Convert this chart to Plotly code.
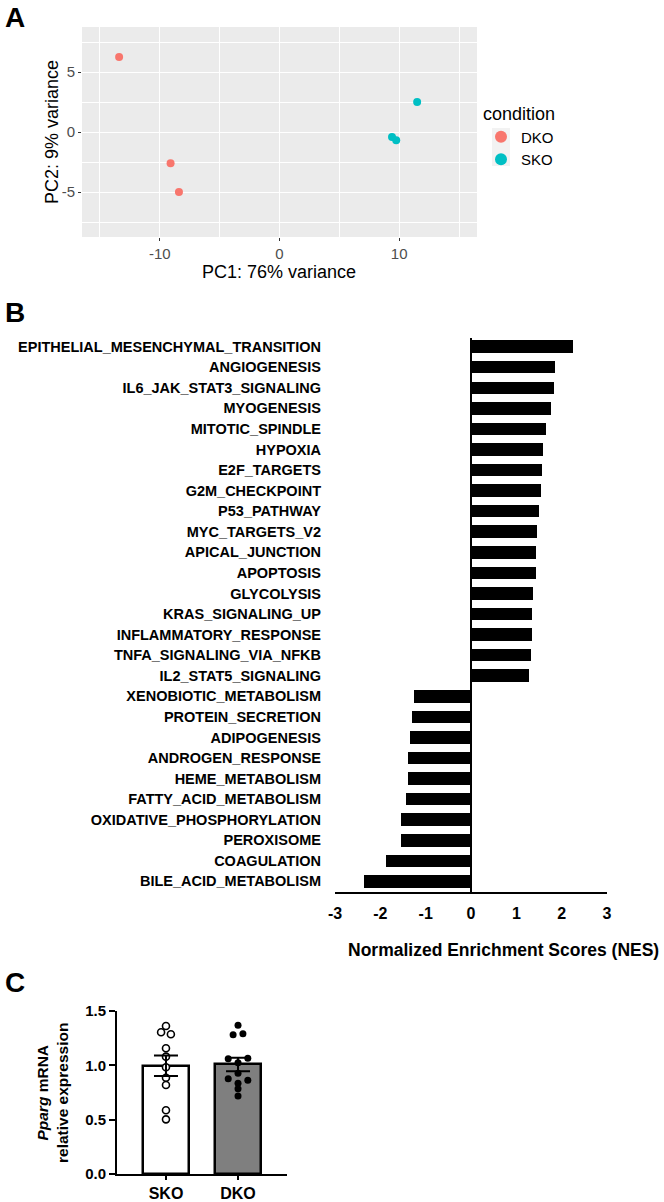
import plotly.graph_objects as go
import numpy as np

# ---------------- Data ----------------
# Panel A: PCA
dko_pc1 = [-13.4, -9.1, -8.4]
dko_pc2 = [6.25, -2.6, -5.0]
sko_pc1 = [11.5, 9.4, 9.75]
sko_pc2 = [2.5, -0.42, -0.69]
pca_xticks = [-10, 0, 10]
pca_xticktext = ["-10", "0", "10"]
pca_yticks = [-5, 0, 5]
pca_yticktext = ["-5", "0", "5"]

# Panel B: GSEA hallmark NES
pathways = [
    "EPITHELIAL_MESENCHYMAL_TRANSITION", "ANGIOGENESIS", "IL6_JAK_STAT3_SIGNALING",
    "MYOGENESIS", "MITOTIC_SPINDLE", "HYPOXIA", "E2F_TARGETS", "G2M_CHECKPOINT",
    "P53_PATHWAY", "MYC_TARGETS_V2", "APICAL_JUNCTION", "APOPTOSIS", "GLYCOLYSIS",
    "KRAS_SIGNALING_UP", "INFLAMMATORY_RESPONSE", "TNFA_SIGNALING_VIA_NFKB",
    "IL2_STAT5_SIGNALING", "XENOBIOTIC_METABOLISM", "PROTEIN_SECRETION",
    "ADIPOGENESIS", "ANDROGEN_RESPONSE", "HEME_METABOLISM", "FATTY_ACID_METABOLISM",
    "OXIDATIVE_PHOSPHORYLATION", "PEROXISOME", "COAGULATION", "BILE_ACID_METABOLISM",
]
nes = [
    2.25, 1.85, 1.82, 1.77, 1.65, 1.58, 1.57, 1.54, 1.51, 1.45, 1.44, 1.43, 1.37,
    1.35, 1.34, 1.32, 1.29, -1.25, -1.30, -1.34, -1.38, -1.40, -1.44, -1.55, -1.55,
    -1.87, -2.35,
]
nes_ticks = [-3, -2, -1, 0, 1, 2, 3]
nes_ticktext = ["-3", "-2", "-1", "0", "1", "2", "3"]

# Panel C: Pparg mRNA relative expression
pparg_groups = ["SKO", "DKO"]
pparg_sko = [1.362, 1.304, 1.286, 1.157, 1.08, 0.982, 0.886, 0.819, 0.586, 0.503]
pparg_dko = [1.368, 1.282, 1.291, 1.061, 1.065, 1.024, 0.927, 0.877, 0.862, 0.835, 0.785, 0.718]
pparg_yticks = [0, 0.5, 1.0, 1.5]

# ---------------- Style ----------------
W, H = 664, 1202
FONT = "Liberation Sans, Arial, Helvetica, sans-serif"
C_DKO = "#F8766D"
C_SKO = "#00BFC4"
sko_jitter = [0, -1, 1, 0, 0, 0, 0, 0, 0, 0]
dko_jitter = [0, -1, 1, -2, 2, 0, 0, -2, 2, 0, 0, 0]
JIT = 0.068


def fx(p):
    return p / W


def fy(p):
    return 1 - p / H


fig = go.Figure()

# ---- Panel A ----
fig.add_trace(go.Scatter(
    x=dko_pc1, y=dko_pc2, mode="markers", name="DKO",
    marker=dict(color=C_DKO, size=8), xaxis="x", yaxis="y", legendgroup="a",
))
fig.add_trace(go.Scatter(
    x=sko_pc1, y=sko_pc2, mode="markers", name="SKO",
    marker=dict(color=C_SKO, size=8), xaxis="x", yaxis="y", legendgroup="a",
))

# ---- Panel B ----
fig.add_trace(go.Bar(
    x=nes, y=pathways, orientation="h", width=0.61,
    marker=dict(color="black", line=dict(width=0)),
    xaxis="x2", yaxis="y2", showlegend=False,
))

# ---- Panel C ----
vals = [np.array(pparg_sko), np.array(pparg_dko)]
means = [v.mean() for v in vals]
sems = [v.std(ddof=1) / np.sqrt(len(v)) for v in vals]
gx = list(range(len(pparg_groups)))

fig.add_trace(go.Bar(
    x=gx, y=means, width=0.65,
    marker=dict(color=["white", "#7F7F7F"], line=dict(color="black", width=2.5)),
    xaxis="x3", yaxis="y3", showlegend=False,
))
fig.add_trace(go.Scatter(
    x=[gx[0] + j * JIT for j in sko_jitter], y=pparg_sko, mode="markers",
    marker=dict(symbol="circle", size=7, color="white", line=dict(color="black", width=1.6)),
    xaxis="x3", yaxis="y3", showlegend=False,
))
fig.add_trace(go.Scatter(
    x=[gx[1] + j * JIT for j in dko_jitter], y=pparg_dko, mode="markers",
    marker=dict(symbol="circle", size=7, color="black"),
    xaxis="x3", yaxis="y3", showlegend=False,
))
fig.add_trace(go.Scatter(
    x=gx, y=means, mode="markers",
    marker=dict(size=1, color="rgba(0,0,0,0)"),
    error_y=dict(type="data", array=sems, visible=True, color="black", thickness=2, width=12),
    xaxis="x3", yaxis="y3", showlegend=False, hoverinfo="skip",
))

axis_font_a = dict(family=FONT, size=15, color="#4D4D4D")
bold = dict(family=FONT, color="black", weight="bold")

fig.update_layout(
    width=W, height=H,
    margin=dict(l=0, r=0, t=0, b=0, autoexpand=False),
    paper_bgcolor="white", plot_bgcolor="white",
    font=dict(family=FONT, color="black"),
    bargap=0,
    showlegend=True,
    legend=dict(
        x=fx(481), y=fy(97), xanchor="left", yanchor="top",
        title=dict(text="condition", font=dict(family=FONT, size=18, color="black")),
        font=dict(family=FONT, size=15, color="black"),
        bgcolor="rgba(0,0,0,0)", borderwidth=0, itemsizing="constant",
        tracegroupgap=0,
    ),
    # Panel A axes
    xaxis=dict(
        domain=[fx(82), fx(477)], anchor="y", range=[-16.5, 16.5], automargin=False,
        tickmode="array", tickvals=pca_xticks, ticktext=pca_xticktext,
        showgrid=True, gridcolor="white", gridwidth=1.2,
        minor=dict(tickvals=[-15, -5, 5, 15], showgrid=True, gridcolor="white", gridwidth=0.6, ticks=""),
        zeroline=False, showline=False,
        ticks="outside", ticklen=3, tickcolor="#333333", tickwidth=1,
        tickfont=axis_font_a,
    ),
    yaxis=dict(
        domain=[fy(237), fy(27)], anchor="x", range=[-8.75, 8.75], automargin=False,
        tickmode="array", tickvals=pca_yticks, ticktext=pca_yticktext,
        showgrid=True, gridcolor="white", gridwidth=1.2,
        minor=dict(tickvals=[-7.5, -2.5, 2.5, 7.5], showgrid=True, gridcolor="white", gridwidth=0.6, ticks=""),
        zeroline=False, showline=False,
        ticks="outside", ticklen=3, tickcolor="#333333", tickwidth=1,
        tickfont=axis_font_a,
    ),
    # Panel B axes
    xaxis2=dict(
        domain=[fx(335), fx(607)], anchor="y2", range=[-3, 3], automargin=False,
        tickmode="array", tickvals=nes_ticks, ticktext=nes_ticktext,
        showgrid=False, zeroline=True, zerolinecolor="black", zerolinewidth=2,
        showline=True, linecolor="black", linewidth=2, ticks="",
        tickfont=dict(bold, size=16), ticklabelstandoff=6,
    ),
    yaxis2=dict(
        domain=[fy(892), fy(338)], anchor="x2", type="category", automargin=False,
        range=[len(pathways) - 1 + 0.515, -0.42],
        showgrid=False, zeroline=False, showline=False, ticks="",
        tickfont=dict(bold, size=14.5), ticklabelstandoff=13,
    ),
    # Panel C axes
    xaxis3=dict(
        domain=[fx(117), fx(287)], anchor="y3", range=[-0.68, 1.68], automargin=False,
        tickmode="array", tickvals=gx, ticktext=pparg_groups,
        showgrid=False, zeroline=False,
        showline=True, linecolor="black", linewidth=2,
        ticks="outside", ticklen=4, tickwidth=2, tickcolor="black",
        tickfont=dict(bold, size=16),
    ),
    yaxis3=dict(
        domain=[fy(1174), fy(1011)], anchor="x3", range=[0, 1.5], automargin=False,
        tickmode="array", tickvals=pparg_yticks, tickformat=".1f",
        showgrid=False, zeroline=False,
        showline=True, linecolor="black", linewidth=2,
        ticks="outside", ticklen=6, tickwidth=2, tickcolor="black",
        tickfont=dict(bold, size=15),
    ),
    shapes=[
        dict(type="rect", xref="x domain", yref="y domain", x0=0, x1=1, y0=0, y1=1,
             fillcolor="#EBEBEB", line=dict(width=0), layer="below"),
        dict(type="rect", xref="paper", yref="paper", x0=fx(492), x1=fx(510),
             y0=fy(166), y1=fy(128), fillcolor="#F2F2F2", line=dict(width=0), layer="below"),
    ],
    annotations=[
        dict(text="A", x=fx(3), y=fy(18), xref="paper", yref="paper", xanchor="left",
             yanchor="middle", showarrow=False, font=dict(bold, size=28)),
        dict(text="B", x=fx(3), y=fy(312), xref="paper", yref="paper", xanchor="left",
             yanchor="middle", showarrow=False, font=dict(bold, size=28)),
        dict(text="C", x=fx(3), y=fy(982), xref="paper", yref="paper", xanchor="left",
             yanchor="middle", showarrow=False, font=dict(bold, size=28)),
        dict(text="PC1: 76% variance", x=fx(279), y=fy(272), xref="paper", yref="paper",
             xanchor="center", yanchor="middle", showarrow=False,
             font=dict(family=FONT, size=18, color="black")),
        dict(text="PC2: 9% variance", x=fx(52), y=fy(132), xref="paper", yref="paper",
             xanchor="center", yanchor="middle", showarrow=False, textangle=-90,
             font=dict(family=FONT, size=18, color="black")),
        dict(text="Normalized Enrichment Scores (NES)", x=fx(503), y=fy(950),
             xref="paper", yref="paper", xanchor="center", yanchor="middle",
             showarrow=False, font=dict(bold, size=17.5)),
        dict(text="<i>Pparg</i> mRNA<br>relative expression", x=fx(52), y=fy(1093),
             xref="paper", yref="paper", xanchor="center", yanchor="middle",
             showarrow=False, textangle=-90, font=dict(bold, size=15.5)),
    ],
)

fig.write_html(
    "out.html",
    config={"displayModeBar": False},
    post_script="document.body.style.margin='0';document.body.style.overflow='hidden';",
)
